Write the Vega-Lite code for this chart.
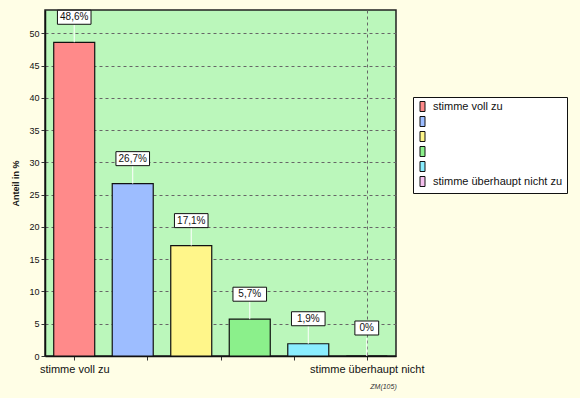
{
  "$schema": "https://vega.github.io/schema/vega-lite/v6.json",
  "width": 351,
  "height": 346,
  "autosize": "none",
  "padding": {"left": 45, "top": 10, "right": 184, "bottom": 42},
  "background": "#FFFEE6",
  "config": {
    "font": "Liberation Sans",
    "view": {"fill": "#BBF7BB", "stroke": "#222222", "strokeWidth": 1.5}
  },
  "data": {
    "values": [
      {"stufe": 1, "wert": 48.6, "label": "48,6%"},
      {"stufe": 2, "wert": 26.7, "label": "26,7%"},
      {"stufe": 3, "wert": 17.1, "label": "17,1%"},
      {"stufe": 4, "wert": 5.7, "label": "5,7%"},
      {"stufe": 5, "wert": 1.9, "label": "1,9%"},
      {"stufe": 6, "wert": 0, "label": "0%"}
    ]
  },
  "encoding": {
    "x": {
      "field": "stufe",
      "type": "quantitative",
      "scale": {"domain": [0.586, 6.414], "nice": false, "zero": false},
      "axis": {
        "values": [1, 2.25, 3.5, 4.75, 6],
        "labelExpr": "datum.value == 1 ? 'stimme voll zu' : datum.value == 6 ? 'stimme überhaupt nicht' : ''",
        "labelFontSize": 11,
        "labelColor": "#111111",
        "labelPadding": 3,
        "tickSize": 4,
        "tickColor": "#333333",
        "domainColor": "#111111",
        "domainWidth": 1.5,
        "grid": true,
        "gridDash": [3, 3],
        "gridColor": "#666666",
        "gridOpacity": {"condition": {"test": "datum.value == 6", "value": 1}, "value": 0},
        "title": "ZM(105)",
        "titleFontSize": 7,
        "titleFontStyle": "italic",
        "titleFontWeight": "normal",
        "titleX": 338,
        "titleY": 26,
        "titleAlign": "center",
        "titleColor": "#333333"
      }
    },
    "y": {
      "field": "wert",
      "type": "quantitative",
      "scale": {"domain": [0, 53.6], "nice": false},
      "axis": {
        "values": [0, 5, 10, 15, 20, 25, 30, 35, 40, 45, 50],
        "labelFontSize": 9,
        "labelColor": "#111111",
        "tickSize": 4,
        "tickColor": "#333333",
        "domainColor": "#111111",
        "domainWidth": 1.5,
        "gridDash": [3, 3],
        "gridColor": "#666666",
        "title": "Anteil in %",
        "titleFontSize": 9,
        "titleFontWeight": "bold",
        "titlePadding": 8,
        "titleColor": "#111111"
      }
    }
  },
  "layer": [
    {
      "mark": {"type": "bar", "size": 41, "stroke": "#111111", "strokeWidth": 1.2},
      "encoding": {
        "color": {
          "field": "stufe",
          "type": "nominal",
          "scale": {"range": ["#FF8A8A", "#9DBDFF", "#FFF68A", "#8BF08B", "#8AEEFF", "#F5C0EE"]},
          "legend": {
            "orient": "none",
            "legendX": 368,
            "legendY": 87,
            "title": null,
            "fillColor": "#FFFFFF",
            "strokeColor": "#111111",
            "padding": 4,
            "labelFontSize": 11,
            "labelColor": "#111111",
            "labelLimit": 200,
            "labelExpr": "datum.value == 1 ? 'stimme voll zu' : datum.value == 6 ? 'stimme überhaupt nicht zu' : ''",
            "symbolType": "M-0.5,-1H0.5V1H-0.5Z",
            "symbolSize": 100,
            "symbolStrokeColor": "#111111",
            "symbolStrokeWidth": 1,
            "symbolOpacity": 1,
            "rowPadding": 0,
            "labelOffset": 5
          }
        }
      }
    },
    {
      "mark": {"type": "rule", "color": "#FFFFFF", "strokeWidth": 1, "y2Offset": -18},
      "encoding": {"y2": {"field": "wert"}}
    },
    {
      "transform": [{"filter": "datum.wert > 0"}],
      "mark": {
        "type": "point",
        "shape": "M-2.4,-1H2.4V1H-2.4Z",
        "size": 196,
        "filled": true,
        "fill": "#FFFFFF",
        "stroke": "#111111",
        "strokeWidth": 1,
        "opacity": 1,
        "yOffset": -25
      }
    },
    {
      "transform": [{"filter": "datum.wert == 0"}],
      "mark": {
        "type": "point",
        "shape": "M-1.7,-1H1.7V1H-1.7Z",
        "size": 196,
        "filled": true,
        "fill": "#FFFFFF",
        "stroke": "#111111",
        "strokeWidth": 1,
        "opacity": 1,
        "yOffset": -28
      }
    },
    {
      "transform": [{"filter": "datum.wert > 0"}],
      "mark": {"type": "text", "fontSize": 10, "color": "#111111", "yOffset": -25, "baseline": "middle"},
      "encoding": {"text": {"field": "label"}}
    },
    {
      "transform": [{"filter": "datum.wert == 0"}],
      "mark": {"type": "text", "fontSize": 10, "color": "#111111", "yOffset": -28, "baseline": "middle"},
      "encoding": {"text": {"field": "label"}}
    }
  ]
}
